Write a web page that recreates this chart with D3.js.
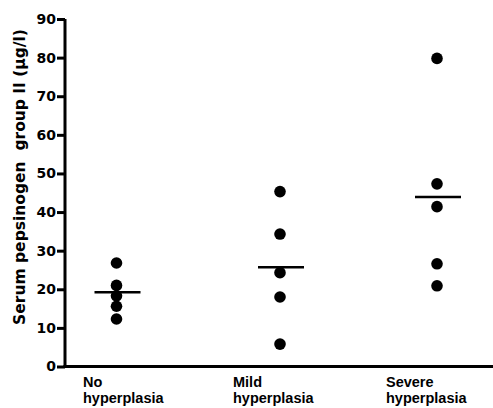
<!DOCTYPE html>
<html>
<head>
<meta charset="utf-8">
<script src="https://cdn.jsdelivr.net/npm/d3@7"></script>
<style>
  body { margin: 0; background: #fff; }
  text { font-family: "Liberation Sans", Arial, sans-serif; fill: #000; }
</style>
</head>
<body>
<svg id="chart" width="493" height="408"></svg>
<script>
// groups and the individual readings (ug/l), plus the mean bar of each group
var groups = ["No hyperplasia", "Mild hyperplasia", "Severe hyperplasia"];
var noHyper = [26.8, 21.0, 18.3, 15.6, 12.3];
var mildHyper = [45.3, 34.3, 24.3, 18.0, 5.8];
var severeHyper = [79.8, 47.3, 41.4, 26.6, 20.9];
var groupMeans = [19.2, 25.7, 43.9];
var yTicks = [0, 10, 20, 30, 40, 50, 60, 70, 80, 90];

var svg = d3.select("#chart");

var y = d3.scaleLinear().domain([0, 90]).range([366.5, 19]);
var x = d3.scaleOrdinal().domain(groups).range([116.5, 280, 437]);
var xLab = d3.scaleOrdinal().domain(groups).range([83, 233, 386]);

// y axis
var yAxis = d3.axisLeft(y).tickValues(yTicks).tickSize(8).tickPadding(1).tickFormat(d3.format("d"));
var gy = svg.append("g").attr("transform", "translate(65,0)").call(yAxis);
gy.select(".domain").attr("stroke", "#000").attr("stroke-width", 3)
  .attr("d", "M0," + y(90) + "V" + y(0));
gy.selectAll(".tick line").attr("stroke", "#000").attr("stroke-width", 3);
gy.selectAll(".tick text")
  .attr("font-family", null).attr("fill", "#000")
  .style("font-family", "'DejaVu Sans', sans-serif")
  .style("font-size", "14px").style("font-weight", "bold");

// x axis line
svg.append("line")
  .attr("x1", 63.5).attr("x2", 493)
  .attr("y1", y(0)).attr("y2", y(0))
  .attr("stroke", "#000").attr("stroke-width", 3);

// y title
svg.append("text")
  .attr("transform", "translate(25,177)rotate(-90)")
  .attr("text-anchor", "middle")
  .style("font-family", "'DejaVu Sans', sans-serif")
  .style("font-size", "15.5px").style("font-weight", "bold")
  .text("Serum pepsinogen\u00a0\u00a0group II (\u00b5g/l)");

// category labels (two lines)
groups.forEach(function(g) {
  var parts = g.split(" ");
  var t = svg.append("text")
    .attr("x", xLab(g)).attr("y", 387)
    .style("font-size", "14.5px").style("font-weight", "bold");
  t.append("tspan").attr("x", xLab(g)).text(parts[0]);
  t.append("tspan").attr("x", xLab(g)).attr("dy", 16).text(parts[1]);
});

// points
var series = [noHyper, mildHyper, severeHyper];
series.forEach(function(vals, i) {
  svg.append("g").selectAll("circle").data(vals).enter().append("circle")
    .attr("cx", x(groups[i]))
    .attr("cy", function(d) { return y(d); })
    .attr("r", 5.8)
    .attr("fill", "#000");
});

// mean bars
svg.append("g").selectAll("line").data(groupMeans).enter().append("line")
  .attr("x1", function(d, i) { return x(groups[i]) - 22; })
  .attr("x2", function(d, i) { return x(groups[i]) + 24; })
  .attr("y1", function(d) { return y(d); })
  .attr("y2", function(d) { return y(d); })
  .attr("stroke", "#000").attr("stroke-width", 2.5);
</script>
</body>
</html>
